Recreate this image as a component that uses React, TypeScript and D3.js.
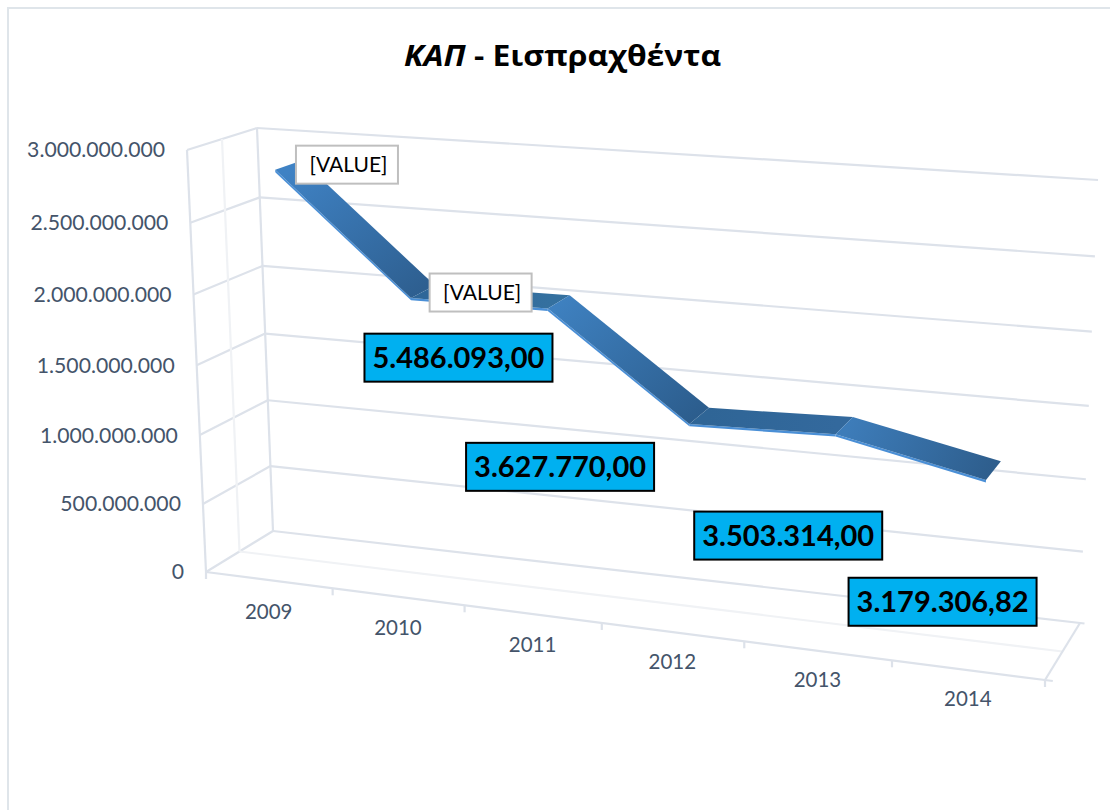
import React from "react";
import * as d3 from "d3";

// ---------- data ----------
const years = ["2009", "2010", "2011", "2012", "2013", "2014"];
const plotted = [2845000000, 2030000000, 2040000000, 1340000000, 1370000000, 1165000000];
const labelTexts = ["[VALUE]", "[VALUE]", "5.486.093,00", "3.627.770,00", "3.503.314,00", "3.179.306,82"];
const valueTicks = [0, 500000000, 1000000000, 1500000000, 2000000000, 2500000000, 3000000000];
const tickLabels = ["0", "500.000.000", "1.000.000.000", "1.500.000.000", "2.000.000.000", "2.500.000.000", "3.000.000.000"];
const titleItalic = "ΚΑΠ";
const titleRest = " - Εισπραχθέντα";

// ---------- layout (not data) ----------
const W = 1110, H = 810;
const corners = {
  fbl: [206, 572], fbr: [1045, 680], bbl: [273, 531], bbr: [1080, 623],
  ftl: [187, 150], ftr: [1064, 215], btl: [257, 128], btr: [1098, 180],
};
const labelOffsets = [[60, -1], [59, 0], [-99, 55], [-138, 50], [-55, 109], [-50, 130]];
const segColors = [
  ["#3f82c4", "#2e5f90"], ["#2f6698", "#34709f"], ["#3e80bf", "#2c5d8d"],
  ["#2f6596", "#33699d"], ["#3d7cb9", "#2e5e8d"],
];
const lineCol = "#dde2ea", faintCol = "#f0f2f5", textCol = "#44546a";
const ribbonFront = 0.325, ribbonBack = 0.72, edgeDrop = 16000000;
const FONT = "Lato, Carlito, 'Open Sans', sans-serif";

const lerp = (a: number[], b: number[], t: number) => [a[0] + (b[0] - a[0]) * t, a[1] + (b[1] - a[1]) * t];
const xScale = d3.scaleLinear().domain([0, years.length]).range([0, 1]);
const yScale = d3.scaleLinear().domain([0, 3000000000]).range([0, 1]);
const warpU = (u: number) => u * (0.887 + 0.113 * u);
const warpV = (t: number) => t * (0.96 + 0.04 * t);

// (category position, value, depth) -> pixel, through the chart's 3D box
function project(cat: number, value: number, depth: number) {
  const u = warpU(xScale(cat));
  const t = warpV(yScale(value));
  const bottom = lerp(lerp(corners.fbl, corners.fbr, u), lerp(corners.bbl, corners.bbr, u), depth);
  const top = lerp(lerp(corners.ftl, corners.ftr, u), lerp(corners.btl, corners.btr, u), depth);
  return lerp(bottom, top, t);
}
const path = d3.line<number[]>().x((d) => d[0]).y((d) => d[1]);

function Line({ pts, c = lineCol, w = 2.2 }: { pts: number[][]; c?: string; w?: number }) {
  return <path d={path(pts)!} fill="none" stroke={c} strokeWidth={w} />;
}

export default function App() {
  const n = years.length;
  const cats = d3.range(n).map((i) => i + 0.5);
  const top = 3000000000;
  const front = cats.map((c, i) => project(c, plotted[i], ribbonFront));
  const back = cats.map((c, i) => project(c, plotted[i], ribbonBack));
  const lower = cats.map((c, i) => project(c, plotted[i] - edgeDrop, ribbonFront));
  const mids = cats.map((c, i) => project(c, plotted[i], 0.5));

  return (
    <svg width={W} height={H} style={{ position: "absolute", left: 0, top: 0, background: "#fff" }}>
      <defs>
        {segColors.map((s, i) => (
          <linearGradient key={i} id={`seg${i}`} gradientUnits="userSpaceOnUse"
            x1={back[i][0]} y1={back[i][1]} x2={front[i + 1][0]} y2={front[i + 1][1]}>
            <stop offset="0" stopColor={s[0]} />
            <stop offset="1" stopColor={s[1]} />
          </linearGradient>
        ))}
      </defs>

      {/* chart frame: runs off the right and bottom of the picture */}
      <rect x={8} y={8} width={1130} height={840} fill="#fff" stroke="#dfe5ea" strokeWidth={2} />

      {/* title */}
      <g transform="translate(562.5,66) scale(1.1,1)">
        <text textAnchor="middle" fontFamily="'Open Sans', sans-serif" fontWeight={700}
          fontSize={29} fill="#000">
          <tspan fontStyle="italic">{titleItalic}</tspan>
          <tspan>{titleRest}</tspan>
        </text>
      </g>

      {/* back wall grid + side wall grid */}
      {valueTicks.map((v) => (
        <g key={v}>
          <Line pts={[project(0, v, 1), project(v === 0 ? n + 0.03 : n, v, 1)]} />
          <Line pts={[project(0, v, 0), project(0, v, 1)]} />
        </g>
      ))}
      <Line pts={[project(0, 0, 0), project(0, top, 0)]} />
      <Line pts={[project(0, 0, 1), project(0, top, 1)]} />
      <Line pts={[project(0, 0, 0.5), project(0, top, 0.5)]} c={faintCol} />

      {/* floor */}
      <Line pts={[project(0, 0, 0), project(n + 0.05, 0, 0)]} />
      <Line pts={[project(0, 0, 0.5), project(n, 0, 0.5)]} c={faintCol} />
      <Line pts={[project(n, 0, 0), project(n, 0, 1)]} />
      {d3.range(n + 1).map((i) => {
        const p = project(i, 0, 0);
        return <Line key={i} pts={[p, [p[0], p[1] + 7]]} />;
      })}

      {/* tick labels */}
      {valueTicks.map((v, i) => {
        const p = project(0, v, 0);
        return (
          <text key={v} x={p[0] - 22} y={p[1]} dy="0.35em" textAnchor="end" fontFamily={FONT}
            fontSize={21.2} fill={textCol}>{tickLabels[i]}</text>
        );
      })}
      {years.map((y, i) => {
        const p = project(i + 0.5, 0, 0);
        return (
          <text key={y} x={p[0]} y={p[1] + 32 - 0.7 * i} dy="0.35em" textAnchor="middle" fontFamily={FONT}
            fontSize={20.5} fill={textCol}>{y}</text>
        );
      })}

      {/* ribbon */}
      {segColors.map((_, i) => (
        <g key={i}>
          <path d={path([front[i], front[i + 1], lower[i + 1], lower[i]])! + "Z"} fill="#4a8fd6" />
          <path d={path([front[i], front[i + 1], back[i + 1], back[i]])! + "Z"} fill={`url(#seg${i})`} />
        </g>
      ))}

      {/* data labels */}
      {labelTexts.map((t, i) => {
        const cx = mids[i][0] + labelOffsets[i][0];
        const cy = mids[i][1] + labelOffsets[i][1];
        const plain = t === "[VALUE]";
        const w = plain ? 102 : 188;
        const h = plain ? 38 : 48;
        return (
          <g key={i}>
            <rect x={cx - w / 2} y={cy - h / 2} width={w} height={h} fill={plain ? "#fff" : "#00b0f0"}
              stroke={plain ? "#bfbfbf" : "#000"} strokeWidth={2} />
            <text x={cx + (plain ? 1.5 : 0)} y={cy} dy="0.36em" textAnchor="middle" fontFamily={FONT}
              fontWeight={plain ? 400 : 700} fontSize={plain ? 21 : 29} fill="#000">{t}</text>
          </g>
        );
      })}
    </svg>
  );
}
